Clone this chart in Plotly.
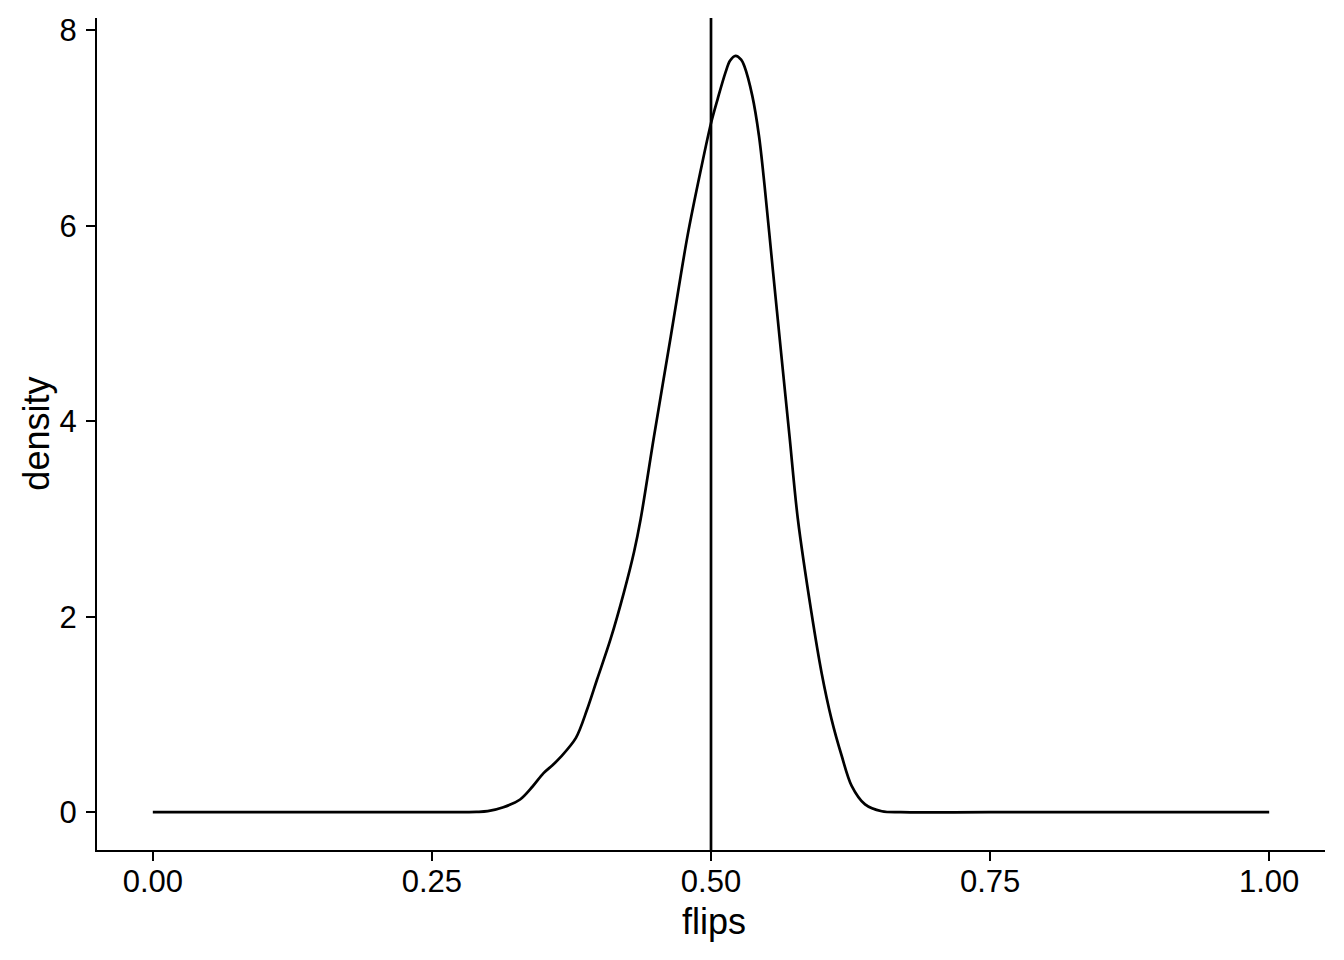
import plotly.graph_objects as go

# density of flips
flips = [0.0, 0.25, 0.29, 0.30, 0.314, 0.329, 0.340, 0.35, 0.358, 0.365,
         0.379, 0.389, 0.398, 0.410, 0.422, 0.431, 0.437, 0.449, 0.464, 0.479,
         0.491, 0.500, 0.506, 0.513, 0.517, 0.522, 0.527, 0.530, 0.537, 0.543,
         0.548, 0.5554, 0.5628, 0.5703, 0.5778, 0.590, 0.599, 0.608, 0.617, 0.626,
         0.638, 0.653, 0.67, 0.75, 1.0]
density = [0, 0, 0.003, 0.01, 0.05, 0.13, 0.26, 0.40, 0.48, 0.56,
           0.76, 1.05, 1.36, 1.77, 2.25, 2.66, 3.00, 3.85, 4.87, 5.90,
           6.58, 7.05, 7.30, 7.57, 7.69, 7.74, 7.70, 7.63, 7.33, 6.92,
           6.41, 5.55, 4.70, 3.85, 3.00, 2.04, 1.43, 0.95, 0.58, 0.27,
           0.08, 0.01, 0, 0, 0]

true_p = 0.5

x_ticks = [0.0, 0.25, 0.5, 0.75, 1.0]
x_labels = ["0.00", "0.25", "0.50", "0.75", "1.00"]
y_ticks = [0, 2, 4, 6, 8]

fig = go.Figure()
fig.add_trace(go.Scatter(x=flips, y=density, mode="lines",
                         line=dict(color="black", width=2.7, shape="spline", smoothing=0.9),
                         showlegend=False, hoverinfo="skip"))
fig.add_vline(x=true_p, line=dict(color="black", width=2.7))

font_family = "Liberation Sans, Arial, Helvetica, sans-serif"
# page body has an 8px margin, so the figure is a bit smaller and margins shifted
fig.update_layout(
    width=1336, height=952,
    margin=dict(l=89, r=19, t=10, b=110),
    paper_bgcolor="white", plot_bgcolor="white",
    font=dict(family=font_family, color="black"),
)
axis_style = dict(showgrid=False, zeroline=False, showline=True, linecolor="black", linewidth=2,
                  ticks="outside", ticklen=9, tickwidth=2, tickcolor="black",
                  tickfont=dict(size=31, color="black"), automargin=False)
fig.update_xaxes(range=[-0.05, 1.05], tickvals=x_ticks, ticktext=x_labels,
                 ticklabelstandoff=-6, **axis_style)
fig.update_yaxes(range=[-0.387, 8.127], tickvals=y_ticks, ticklabelstandoff=3, **axis_style)

# axis titles
fig.add_annotation(text="flips", xref="paper", yref="paper", x=0.5021, y=-0.0865,
                   xanchor="center", yanchor="middle", showarrow=False,
                   font=dict(size=36, color="black"))
fig.add_annotation(text="density", xref="paper", yref="paper", x=-0.0493, y=0.501,
                   xanchor="center", yanchor="middle", textangle=-90, showarrow=False,
                   font=dict(size=36, color="black"))

fig.write_html("out.html")
